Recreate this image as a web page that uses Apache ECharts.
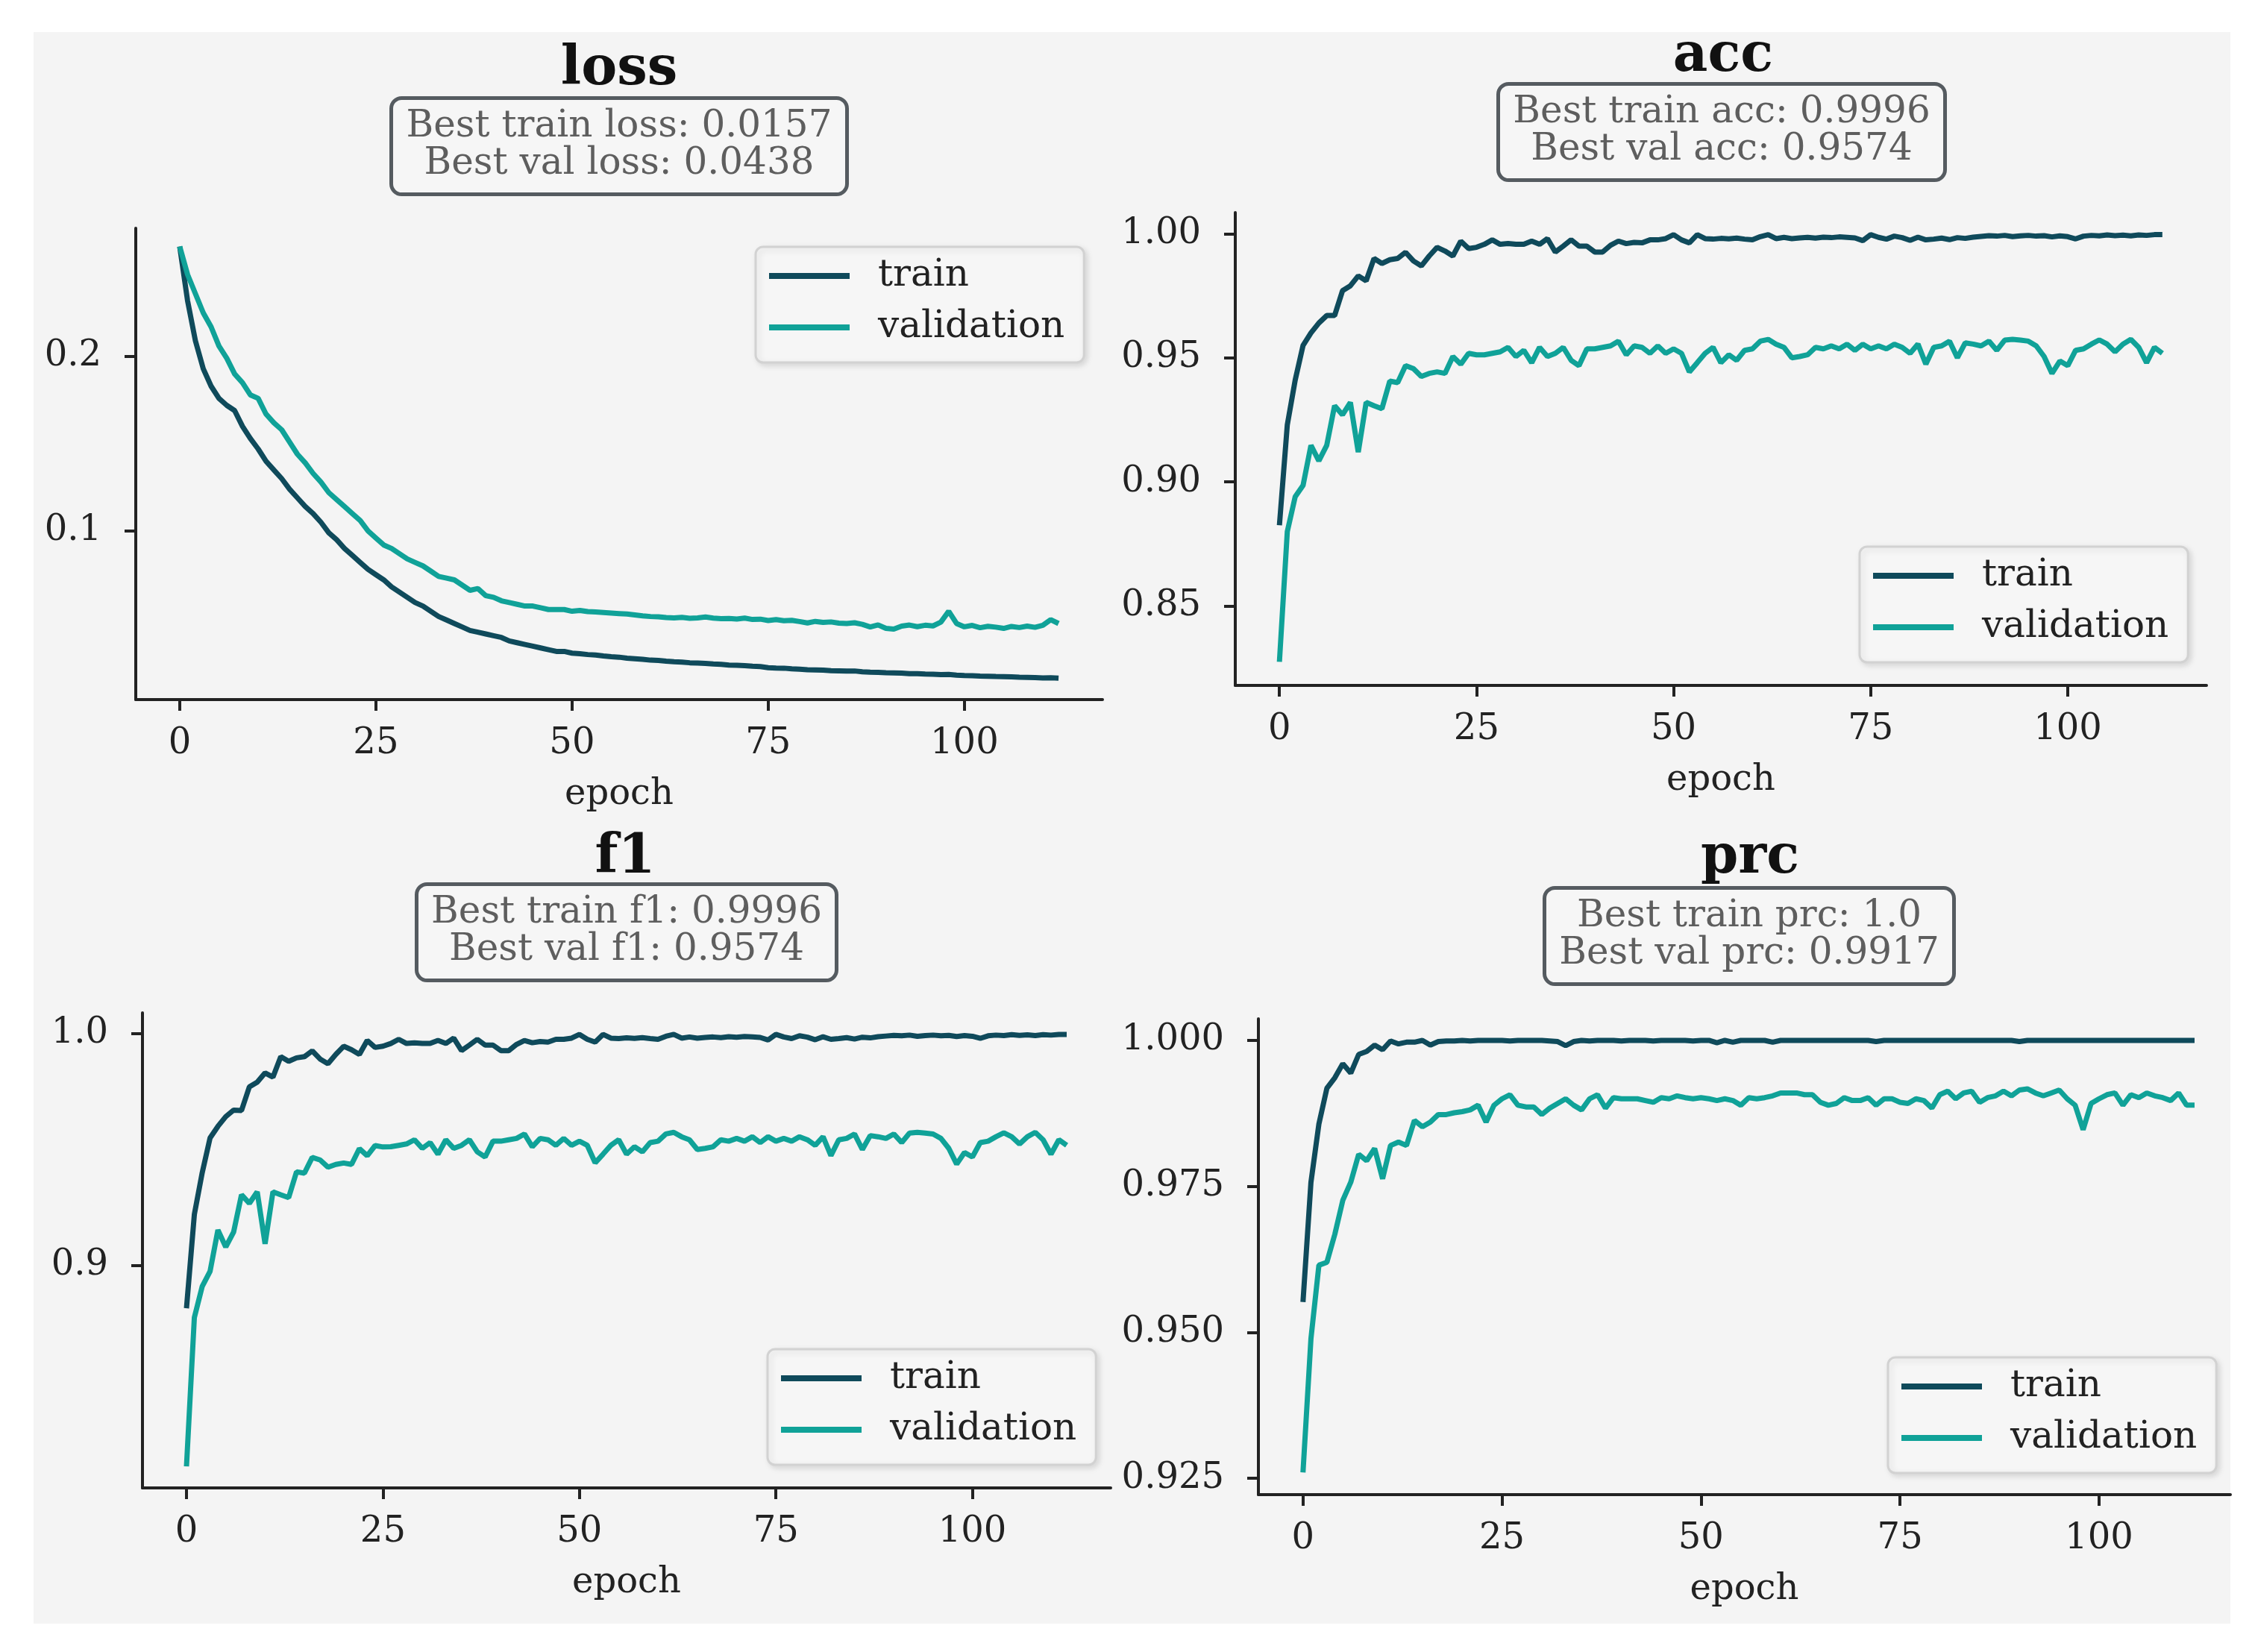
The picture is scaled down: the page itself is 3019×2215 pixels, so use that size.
<!DOCTYPE html>
<html>
<head>
<meta charset="utf-8">
<title>training curves</title>
<script src="https://cdn.jsdelivr.net/npm/echarts@6.0.0/dist/echarts.min.js"></script>
<style>
  html, body { margin: 0; padding: 0; background: #ffffff; }
  #panel { position: absolute; left: 45px; top: 43px; width: 2945px; height: 2134px; background: #f4f4f4; }
  #main { position: absolute; left: 0; top: 0; width: 3019px; height: 2215px; }
</style>
</head>
<body>
<div id="panel"></div>
<div id="main"></div>
<script>
// values, one per epoch (0..112)
var lossTrain = [0.263,0.232,0.209,0.193,0.183,0.176,0.172,0.169,0.160,0.153,
  0.147,0.140,0.135,0.130,0.124,0.119,0.114,0.110,0.105,0.099,
  0.095,0.090,0.086,0.082,0.078,0.075,0.072,0.068,0.065,0.062,
  0.059,0.057,0.054,0.051,0.049,0.047,0.045,0.043,0.042,0.041,
  0.040,0.039,0.037,0.036,0.035,0.034,0.033,0.032,0.031,0.031,
  0.0300,0.0297,0.0292,0.0289,0.0284,0.0280,0.0277,0.0271,0.0268,0.0265,
  0.0260,0.0258,0.0254,0.0251,0.0249,0.0245,0.0243,0.0241,0.0238,0.0236,
  0.0232,0.0231,0.0228,0.0225,0.0223,0.0217,0.0215,0.0214,0.0210,0.0208,
  0.0205,0.0204,0.0203,0.0200,0.0199,0.0197,0.0198,0.0193,0.0191,0.0190,
  0.0188,0.0187,0.0186,0.0183,0.0182,0.0180,0.0179,0.0177,0.0178,0.0174,
  0.0172,0.0171,0.0169,0.0168,0.0166,0.0165,0.0164,0.0162,0.0161,0.0160,
  0.0158,0.0159,0.0157];
var lossVal = [0.263,0.247,0.236,0.225,0.217,0.206,0.199,0.190,0.185,0.178,
  0.176,0.167,0.162,0.158,0.151,0.144,0.139,0.133,0.128,0.122,
  0.118,0.114,0.110,0.106,0.100,0.096,0.092,0.090,0.087,0.084,
  0.082,0.080,0.077,0.074,0.073,0.072,0.069,0.066,0.067,0.063,
  0.062,0.060,0.059,0.058,0.057,0.057,0.056,0.055,0.055,0.055,
  0.0540,0.0545,0.0538,0.0536,0.0533,0.0530,0.0527,0.0524,0.0519,0.0514,
  0.0510,0.0508,0.0504,0.0502,0.0505,0.0500,0.0502,0.0507,0.0501,0.0498,
  0.0499,0.0496,0.0501,0.0493,0.0495,0.0487,0.0492,0.0486,0.0488,0.0481,
  0.0473,0.0482,0.0476,0.0479,0.0472,0.0470,0.0474,0.0465,0.0450,0.0462,
  0.0442,0.0438,0.0455,0.0461,0.0452,0.0460,0.0456,0.0478,0.0540,0.0470,
  0.0451,0.0459,0.0446,0.0454,0.0449,0.0442,0.0453,0.0447,0.0455,0.0448,
  0.0460,0.0492,0.0470];
var accTrain = [0.8825,0.923,0.941,0.955,0.960,0.964,0.967,0.967,0.977,0.979,
  0.983,0.981,0.990,0.988,0.9895,0.990,0.9925,0.989,0.987,0.991,
  0.9945,0.993,0.991,0.997,0.994,0.9945,0.9957,0.9975,0.9957,0.996,
  0.9957,0.9957,0.997,0.9957,0.998,0.9926,0.995,0.9975,0.995,0.995,
  0.9926,0.9926,0.9953,0.997,0.996,0.9965,0.9963,0.9975,0.9975,0.998,
  0.9996,0.9975,0.9963,0.9996,0.998,0.9978,0.9981,0.9979,0.9982,0.9978,
  0.9975,0.9988,0.9996,0.998,0.9985,0.998,0.9983,0.9985,0.9982,0.9986,
  0.9984,0.9987,0.9985,0.9983,0.9972,0.9996,0.9985,0.9978,0.9990,0.9984,
  0.9973,0.9986,0.9975,0.9978,0.9982,0.9976,0.9984,0.9981,0.9986,0.9989,
  0.9992,0.9990,0.9993,0.9988,0.9991,0.9993,0.9990,0.9992,0.9987,0.9991,
  0.9988,0.9979,0.9990,0.9993,0.9991,0.9995,0.9992,0.9994,0.9991,0.9995,
  0.9993,0.9996,0.9996];
var accVal = [0.8275,0.880,0.894,0.8986,0.9147,0.9085,0.9147,0.9307,0.927,0.932,
  0.912,0.932,0.9307,0.9295,0.9406,0.940,0.9468,0.9456,0.9425,0.9437,
  0.9443,0.9437,0.9505,0.9474,0.9518,0.9512,0.9512,0.9518,0.9524,0.9542,
  0.9505,0.953,0.948,0.9542,0.9505,0.9518,0.9542,0.949,0.9468,0.9536,
  0.9536,0.9542,0.9548,0.9567,0.9512,0.9548,0.9542,0.9518,0.9548,0.9518,
  0.9536,0.9518,0.9443,0.948,0.9518,0.9542,0.948,0.9512,0.949,0.953,
  0.9536,0.9567,0.9574,0.9555,0.9542,0.950,0.9505,0.9512,0.9542,0.9536,
  0.9548,0.9536,0.9555,0.953,0.9555,0.9536,0.9548,0.9536,0.9555,0.9542,
  0.9518,0.9555,0.9474,0.9542,0.9548,0.9567,0.950,0.956,0.9555,0.9548,
  0.9567,0.953,0.9571,0.9574,0.9571,0.9567,0.9548,0.9505,0.9437,0.9487,
  0.9468,0.953,0.9536,0.9555,0.9572,0.9555,0.9524,0.9555,0.9574,0.9542,
  0.948,0.9542,0.9518];
var f1Train = [0.8816,0.922,0.940,0.955,0.960,0.9642,0.967,0.9668,0.977,0.979,
  0.983,0.9812,0.990,0.988,0.9895,0.990,0.9925,0.989,0.987,0.991,
  0.9945,0.993,0.991,0.997,0.994,0.9945,0.9957,0.9975,0.9957,0.996,
  0.9957,0.9957,0.997,0.9957,0.998,0.9926,0.995,0.9975,0.995,0.995,
  0.9926,0.9926,0.9953,0.997,0.996,0.9965,0.9963,0.9975,0.9975,0.998,
  0.9996,0.9975,0.9963,0.9996,0.998,0.9978,0.9981,0.9979,0.9982,0.9978,
  0.9975,0.9988,0.9996,0.998,0.9985,0.998,0.9983,0.9985,0.9982,0.9986,
  0.9984,0.9987,0.9985,0.9983,0.9972,0.9996,0.9985,0.9978,0.9990,0.9984,
  0.9973,0.9986,0.9975,0.9978,0.9982,0.9976,0.9984,0.9981,0.9986,0.9989,
  0.9992,0.9990,0.9993,0.9988,0.9991,0.9993,0.9990,0.9992,0.9987,0.9991,
  0.9988,0.9979,0.9990,0.9993,0.9991,0.9995,0.9992,0.9994,0.9991,0.9995,
  0.9993,0.9996,0.9996];
var f1Val = [0.8135,0.8776,0.891,0.8975,0.9153,0.9080,0.9145,0.9305,0.9268,0.9318,
  0.9094,0.9318,0.9305,0.9293,0.9404,0.9398,0.9466,0.9455,0.9424,0.9436,
  0.9442,0.9436,0.9504,0.9473,0.9517,0.9511,0.9512,0.9518,0.9524,0.9542,
  0.9505,0.953,0.948,0.9542,0.9505,0.9518,0.9542,0.949,0.9468,0.9536,
  0.9536,0.9542,0.9548,0.9567,0.9512,0.9548,0.9542,0.9518,0.9548,0.9518,
  0.9536,0.9518,0.9443,0.948,0.9518,0.9542,0.948,0.9512,0.949,0.953,
  0.9536,0.9567,0.9574,0.9555,0.9542,0.950,0.9505,0.9512,0.9542,0.9536,
  0.9548,0.9536,0.9555,0.953,0.9555,0.9536,0.9548,0.9536,0.9555,0.9542,
  0.9518,0.9555,0.9474,0.9542,0.9548,0.9567,0.950,0.956,0.9555,0.9548,
  0.9567,0.953,0.9571,0.9574,0.9571,0.9567,0.9548,0.9505,0.9437,0.9487,
  0.9468,0.953,0.9536,0.9555,0.9572,0.9555,0.9524,0.9555,0.9574,0.9542,
  0.948,0.9542,0.9518];
var prcTrain = [0.9552,0.9757,0.9857,0.9918,0.9936,0.9960,0.9944,0.9976,0.9981,0.9992,
  0.9984,0.9999,0.9994,0.9997,0.9997,1.0,0.9992,0.9998,0.9999,0.9999,
  1.0,0.9999,1.0,1.0,1.0,1.0,0.9999,1.0,1.0,1.0,
  1.0,0.9999,0.9998,0.9991,0.9998,1.0,0.9999,1.0,1.0,1.0,
  0.9999,1.0,1.0,1.0,0.9999,1.0,1.0,1.0,1.0,0.9999,
  1.0,1.0,0.9996,1.0,0.9997,1.0,1.0,1.0,1.0,0.9997,
  1.0,1.0,1.0,1.0,1.0,1.0,1.0,1.0,1.0,1.0,
  1.0,1.0,0.9998,1.0,1.0,1.0,1.0,1.0,1.0,1.0,
  1.0,1.0,1.0,1.0,1.0,1.0,1.0,1.0,1.0,1.0,
  0.9998,1.0,1.0,1.0,1.0,1.0,1.0,1.0,1.0,1.0,
  1.0,1.0,1.0,1.0,1.0,1.0,1.0,1.0,1.0,1.0,
  1.0,1.0,1.0];
var prcVal = [0.926,0.9489,0.9615,0.9620,0.9668,0.9726,0.9757,0.9805,0.9794,0.9815,
  0.9763,0.9820,0.9826,0.9820,0.9863,0.9852,0.9860,0.9873,0.9873,0.9876,
  0.9878,0.9881,0.9889,0.9860,0.9889,0.9900,0.9907,0.9889,0.9886,0.9886,
  0.9873,0.9884,0.9892,0.9900,0.9889,0.9881,0.9900,0.9907,0.9884,0.9902,
  0.9900,0.9900,0.9900,0.9897,0.9894,0.9902,0.9900,0.9905,0.9902,0.9900,
  0.9902,0.9900,0.9897,0.9900,0.9897,0.9889,0.9902,0.9900,0.9902,0.9905,
  0.9910,0.9910,0.9910,0.9907,0.9907,0.9894,0.9889,0.9892,0.9902,0.9897,
  0.9897,0.9902,0.9889,0.9900,0.9900,0.9894,0.9892,0.9900,0.9897,0.9884,
  0.9907,0.9913,0.9900,0.9910,0.9913,0.9894,0.9902,0.9905,0.9913,0.9905,
  0.9915,0.9917,0.9910,0.9905,0.9910,0.9915,0.9900,0.9889,0.9847,0.9892,
  0.9900,0.9907,0.9910,0.9889,0.9907,0.9902,0.9910,0.9905,0.9902,0.9897,
  0.9910,0.9889,0.9889];

var xTicks = [0, 25, 50, 75, 100];
var lossTicks = [0.1, 0.2];
var accTicks = [0.85, 0.90, 0.95, 1.00];
var f1Ticks = [0.9, 1.0];
var prcTicks = [0.925, 0.950, 0.975, 1.000];

var FONT = "'DejaVu Serif', serif";
var INK = '#222222';
var C_TRAIN = '#0f4a5b';
var C_VAL = '#10a298';

var panels = [
  { key: 'loss', train: lossTrain, val: lossVal, best: ['0.0157', '0.0438'],
    yTicks: lossTicks, dec: 1, yMin: 0.0034, yMax: 0.2735, xMax: 117.6,
    grid: { left: 182, top: 306, width: 1296, height: 632 },
    title: { cx: 830, top: 58 }, box: { cx: 830, top: 131 },
    legend: { left: 1013, top: 331 } },
  { key: 'acc', train: accTrain, val: accVal, best: ['0.9996', '0.9574'],
    yTicks: accTicks, dec: 2, yMin: 0.8180, yMax: 1.0085, xMax: 117.6,
    grid: { left: 1656, top: 285, width: 1302, height: 634 },
    title: { cx: 2310, top: 40 }, box: { cx: 2308, top: 112 },
    legend: { left: 2493, top: 733 } },
  { key: 'f1', train: f1Train, val: f1Val, best: ['0.9996', '0.9574'],
    yTicks: f1Ticks, dec: 1, yMin: 0.8042, yMax: 1.0089, xMax: 117.6,
    grid: { left: 191, top: 1358, width: 1298, height: 637 },
    title: { cx: 838, top: 1115 }, box: { cx: 840, top: 1185 },
    legend: { left: 1029, top: 1809 } },
  { key: 'prc', train: prcTrain, val: prcVal, best: ['1.0', '0.9917'],
    yTicks: prcTicks, dec: 3, yMin: 0.9222, yMax: 1.0037, xMax: 116.5,
    grid: { left: 1687, top: 1366, width: 1303, height: 638 },
    title: { cx: 2346, top: 1115 }, box: { cx: 2345, top: 1190 },
    legend: { left: 2531, top: 1820 } }
];

function pairs(arr) {
  return arr.map(function (v, i) { return [i, v]; });
}

var titles = [], grids = [], xAxes = [], yAxes = [], legends = [], series = [];

panels.forEach(function (p, i) {
  titles.push({
    text: p.key, left: p.title.cx, top: p.title.top, textAlign: 'center', padding: 0,
    textStyle: { fontFamily: FONT, fontSize: 72, fontWeight: 'bold', color: '#111111', lineHeight: 72 }
  });
  titles.push({
    text: 'Best train ' + p.key + ': ' + p.best[0] + '\nBest val ' + p.key + ': ' + p.best[1],
    left: p.box.cx - 20, top: p.box.top, textAlign: 'center',
    padding: [14, 20, 16, 20],
    backgroundColor: '#f6f6f6', borderColor: '#555b60', borderWidth: 5, borderRadius: 14,
    textStyle: { fontFamily: FONT, fontSize: 50, fontWeight: 'normal', color: '#5e5e5e', lineHeight: 50 }
  });
  grids.push({ left: p.grid.left, top: p.grid.top, width: p.grid.width, height: p.grid.height });
  xAxes.push({
    type: 'value', gridIndex: i, min: -5.6, max: p.xMax,
    axisLine: { show: true, onZero: false, lineStyle: { color: INK, width: 4 } },
    axisTick: { show: true, length: 15, customValues: xTicks, lineStyle: { color: INK, width: 4 } },
    axisLabel: { customValues: xTicks, fontFamily: FONT, fontSize: 48, color: INK, margin: 36 },
    splitLine: { show: false },
    name: 'epoch', nameLocation: 'middle', nameGap: 104,
    nameTextStyle: { fontFamily: FONT, fontSize: 48, color: INK }
  });
  yAxes.push({
    type: 'value', gridIndex: i, min: p.yMin, max: p.yMax,
    axisLine: { show: true, onZero: false, lineStyle: { color: INK, width: 4 } },
    axisTick: { show: true, length: 15, customValues: p.yTicks, lineStyle: { color: INK, width: 4 } },
    axisLabel: {
      customValues: p.yTicks, fontFamily: FONT, fontSize: 48, color: INK, margin: 46,
      formatter: (function (d) { return function (v) { return Number(v).toFixed(d); }; })(p.dec)
    },
    splitLine: { show: false }
  });
  legends.push({
    data: ['train', 'validation'], orient: 'vertical', left: p.legend.left, top: p.legend.top,
    icon: 'rect', itemWidth: 108, itemHeight: 8, itemGap: 19,
    padding: [14, 26, 22, 18],
    backgroundColor: '#f6f6f6', borderColor: '#d2d2d2', borderWidth: 3, borderRadius: 10,
    shadowBlur: 8, shadowColor: 'rgba(0,0,0,0.12)', shadowOffsetX: 3, shadowOffsetY: 3,
    textStyle: { fontFamily: FONT, fontSize: 50, color: INK, lineHeight: 50, padding: [0, 0, 0, 33] },
    selectedMode: false
  });
  series.push({
    name: 'train', type: 'line', xAxisIndex: i, yAxisIndex: i, data: pairs(p.train),
    showSymbol: false, symbol: 'none', lineStyle: { color: C_TRAIN, width: 7 }, itemStyle: { color: C_TRAIN },
    z: 3
  });
  series.push({
    name: 'validation', type: 'line', xAxisIndex: i, yAxisIndex: i, data: pairs(p.val),
    showSymbol: false, symbol: 'none', lineStyle: { color: C_VAL, width: 7 }, itemStyle: { color: C_VAL },
    z: 4
  });
});

var chart = echarts.init(document.getElementById('main'), null, { renderer: 'canvas' });
var option = {
  backgroundColor: 'transparent',
  animation: false,
  title: titles,
  grid: grids,
  xAxis: xAxes,
  yAxis: yAxes,
  legend: legends,
  series: series
};
chart.setOption(option);
</script>
</body>
</html>
